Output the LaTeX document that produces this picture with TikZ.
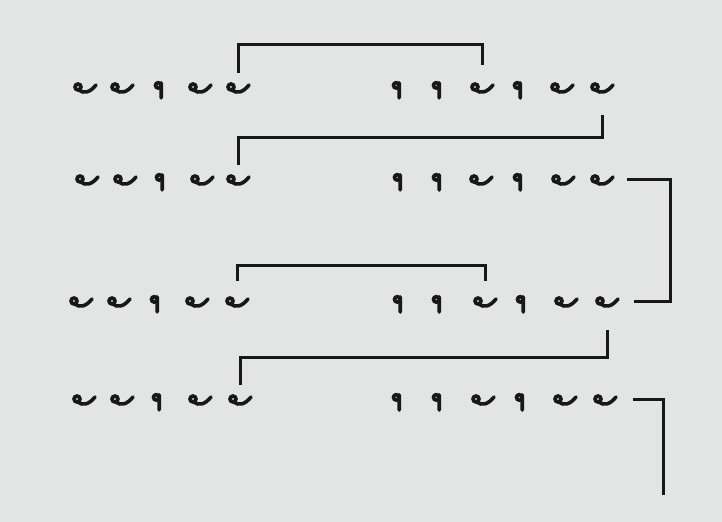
\documentclass[tikz,border=0pt]{standalone}
\usetikzlibrary{calc}
\definecolor{paper}{RGB}{226,229,227}
\definecolor{ink}{RGB}{24,24,24}

\begin{document}
\begin{tikzpicture}[
  x=0.5pt, y=-0.5pt,
  glyph/.style={minimum width=14pt, minimum height=15pt, inner sep=0pt, outer sep=0pt},
  lahu/.style={glyph, path picture={
      \draw[ink, line width=1.8pt, line cap=round, shift={(path picture bounding box.center)}]
        (-7,-1) circle (3)
        (-6.5,2) .. controls (-1,6) and (5,4.5) .. (11,-3);}},
  khru/.style={glyph, path picture={
      \draw[ink, line width=1.8pt, line cap=round, shift={(path picture bounding box.center)}]
        (-1.8,-2.6) circle (2.7)
        (1.2,-5.2) -- (1.2,10);}},
  bracket/.style={draw=ink, line width=1.5pt}
]
\fill[paper] (0,0) rectangle (722,522);

% row 1
\node[lahu] (r1l1) at (85,88) {};
\node[lahu] (r1l2) at (122,88) {};
\node[khru] (r1l3) at (160,88) {};
\node[lahu] (r1l4) at (200,88) {};
\node[lahu] (r1l5) at (238,88) {};
\node[khru] (r1r1) at (398,88) {};
\node[khru] (r1r2) at (438,88) {};
\node[lahu] (r1r3) at (482,88) {};
\node[khru] (r1r4) at (519,88) {};
\node[lahu] (r1r5) at (562,88) {};
\node[lahu] (r1r6) at (602,88) {};

% row 2
\node[lahu] (r2l1) at (87,180) {};
\node[lahu] (r2l2) at (125,180) {};
\node[khru] (r2l3) at (161,180) {};
\node[lahu] (r2l4) at (202,180) {};
\node[lahu] (r2l5) at (238,180) {};
\node[khru] (r2r1) at (399,180) {};
\node[khru] (r2r2) at (438,180) {};
\node[lahu] (r2r3) at (481,180) {};
\node[khru] (r2r4) at (519,180) {};
\node[lahu] (r2r5) at (563,180) {};
\node[lahu] (r2r6) at (602,180) {};

% row 3
\node[lahu] (r3l1) at (81,302) {};
\node[lahu] (r3l2) at (119,302) {};
\node[khru] (r3l3) at (156,302) {};
\node[lahu] (r3l4) at (197,302) {};
\node[lahu] (r3l5) at (237,302) {};
\node[khru] (r3r1) at (399,302) {};
\node[khru] (r3r2) at (438,302) {};
\node[lahu] (r3r3) at (485,302) {};
\node[khru] (r3r4) at (522,302) {};
\node[lahu] (r3r5) at (566,302) {};
\node[lahu] (r3r6) at (607,302) {};

% row 4
\node[lahu] (r4l1) at (84,400) {};
\node[lahu] (r4l2) at (122,400) {};
\node[khru] (r4l3) at (158,400) {};
\node[lahu] (r4l4) at (200,400) {};
\node[lahu] (r4l5) at (240,400) {};
\node[khru] (r4r1) at (398,400) {};
\node[khru] (r4r2) at (438,400) {};
\node[lahu] (r4r3) at (483,400) {};
\node[khru] (r4r4) at (521,400) {};
\node[lahu] (r4r5) at (565,400) {};
\node[lahu] (r4r6) at (605,400) {};

% rhyme links
\draw[bracket, shorten >=4pt] (r1l5.north) -- ++(0,-28) -| (r1r3.north);
\draw[bracket, shorten <=6pt] (r1r6.south) -- ++(0,35) -| (r2l5.north);
\draw[bracket, shorten <=5.5pt, shorten >=6.5pt] (r2r6.east) -- ++(54,0) |- (r3r6.east);
\draw[bracket, shorten <=3pt, shorten >=3pt] (r3l5.north) -- ++(0,-21) -| (r3r3.north);
\draw[bracket, shorten <=6.5pt] (r3r6.south) -- ++(0,41) -| (r4l5.north);
\draw[bracket, shorten <=7pt] (r4r6.east) -- ++(44,0) -- ++(0,95);
\end{tikzpicture}
\end{document}
